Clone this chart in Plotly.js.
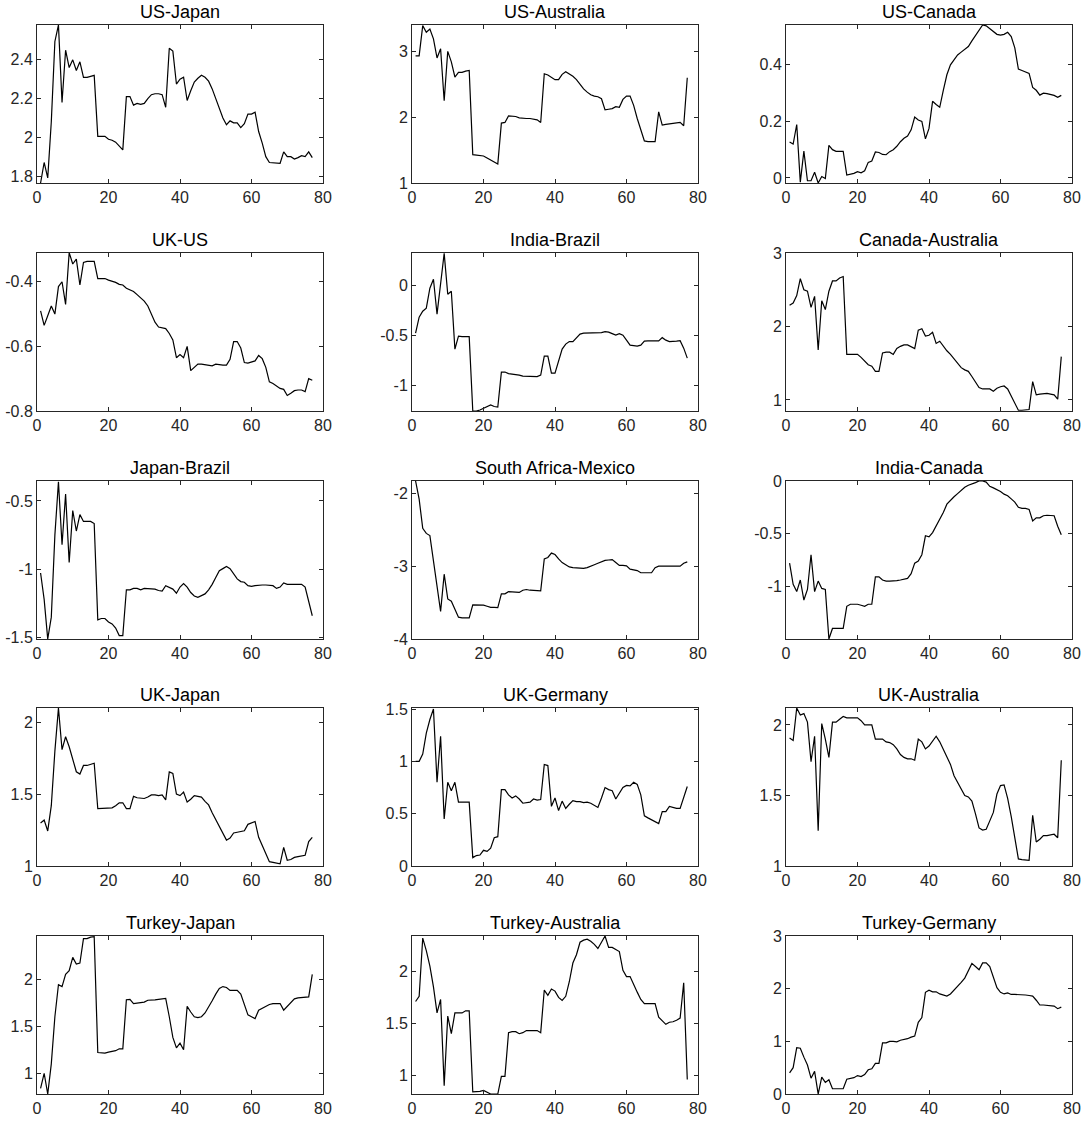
<!DOCTYPE html>
<html>
<head>
<meta charset="utf-8">
<script src="https://cdn.plot.ly/plotly-3.0.1.min.js"></script>
<style>body{margin:0;background:#fff}#chart{width:1084px;height:1121px}</style>
</head>
<body>
<div id="chart"></div>
<script>
const periods = Array.from({length: 77}, (_, i) => i + 1);
const xTicks = [0, 20, 40, 60, 80];

const titles = ["US-Japan", "US-Australia", "US-Canada", "UK-US", "India-Brazil", "Canada-Australia",
  "Japan-Brazil", "South Africa-Mexico", "India-Canada", "UK-Japan", "UK-Germany", "UK-Australia",
  "Turkey-Japan", "Turkey-Australia", "Turkey-Germany"];

const usJapan = [1.764,1.87,1.79,2.08,2.495,2.58,2.18,2.45,2.36,2.40,
  2.345,2.39,2.31,2.31,2.315,2.32,2.005,2.005,2.005,1.99,
  1.985,1.975,1.955,1.935,2.21,2.21,2.166,2.175,2.17,2.175,
  2.2,2.22,2.225,2.225,2.22,2.155,2.46,2.445,2.275,2.3,
  2.31,2.19,2.24,2.285,2.305,2.32,2.31,2.29,2.25,2.2,
  2.15,2.1,2.065,2.085,2.075,2.075,2.05,2.07,2.12,2.12,
  2.13,2.03,1.97,1.9,1.87,1.868,1.866,1.866,1.925,1.9,
  1.9,1.888,1.895,1.905,1.9,1.925,1.895];
const usAustralia = [2.93,2.93,3.39,3.29,3.34,3.19,2.9,3.04,2.25,3.0,
  2.84,2.61,2.68,2.68,2.7,2.71,1.43,1.42,1.42,1.41,
  1.38,1.35,1.31,1.29,1.91,1.92,2.02,2.02,2.01,1.99,
  1.98,1.98,1.98,1.97,1.96,1.92,2.66,2.64,2.6,2.57,
  2.57,2.65,2.69,2.66,2.62,2.57,2.5,2.43,2.38,2.34,
  2.32,2.31,2.28,2.11,2.12,2.13,2.16,2.15,2.27,2.32,
  2.32,2.18,1.98,1.8,1.64,1.63,1.63,1.63,2.08,1.88,
  1.89,1.9,1.9,1.91,1.92,1.87,2.6];
const usCanada = [0.127,0.12,0.189,-0.015,0.095,-0.01,-0.01,0.02,-0.018,0.005,
  -0.002,0.115,0.1,0.094,0.094,0.094,0.01,0.012,0.016,0.022,
  0.018,0.025,0.055,0.06,0.092,0.09,0.083,0.082,0.093,0.1,
  0.112,0.128,0.14,0.148,0.17,0.215,0.205,0.2,0.138,0.175,
  0.271,0.26,0.25,0.31,0.365,0.4,0.42,0.435,0.445,0.455,
  0.465,0.485,0.505,0.525,0.541,0.538,0.528,0.518,0.508,0.505,
  0.508,0.515,0.5,0.46,0.385,0.38,0.375,0.37,0.32,0.31,
  0.293,0.3,0.298,0.296,0.292,0.285,0.292];
const ukUS = [-0.49,-0.535,-0.505,-0.475,-0.5,-0.415,-0.4,-0.47,-0.31,-0.345,
  -0.33,-0.41,-0.34,-0.337,-0.337,-0.337,-0.39,-0.39,-0.39,-0.395,
  -0.398,-0.402,-0.408,-0.41,-0.42,-0.425,-0.43,-0.44,-0.45,-0.46,
  -0.475,-0.5,-0.525,-0.54,-0.542,-0.545,-0.56,-0.58,-0.635,-0.625,
  -0.635,-0.6,-0.675,-0.665,-0.655,-0.655,-0.657,-0.66,-0.66,-0.655,
  -0.657,-0.658,-0.658,-0.64,-0.585,-0.585,-0.605,-0.65,-0.652,-0.648,
  -0.645,-0.628,-0.638,-0.665,-0.71,-0.715,-0.722,-0.73,-0.733,-0.752,
  -0.745,-0.737,-0.735,-0.735,-0.74,-0.70,-0.705];
const indiaBrazil = [-0.48,-0.32,-0.26,-0.23,-0.03,0.06,-0.29,0.0,0.32,-0.09,
  -0.06,-0.64,-0.51,-0.515,-0.515,-0.515,-1.26,-1.26,-1.25,-1.235,
  -1.22,-1.2,-1.215,-1.22,-0.87,-0.87,-0.885,-0.89,-0.89,-0.9,
  -0.91,-0.913,-0.915,-0.915,-0.915,-0.9,-0.71,-0.71,-0.88,-0.88,
  -0.75,-0.64,-0.59,-0.565,-0.565,-0.53,-0.49,-0.48,-0.48,-0.48,
  -0.478,-0.478,-0.475,-0.465,-0.47,-0.485,-0.5,-0.485,-0.5,-0.55,
  -0.6,-0.605,-0.61,-0.6,-0.56,-0.558,-0.558,-0.558,-0.558,-0.525,
  -0.55,-0.565,-0.565,-0.56,-0.555,-0.63,-0.73];
const canadaAustralia = [2.29,2.32,2.42,2.65,2.5,2.48,2.26,2.41,1.68,2.35,
  2.23,2.48,2.62,2.62,2.66,2.68,1.62,1.62,1.63,1.62,
  1.58,1.53,1.48,1.46,1.39,1.39,1.64,1.65,1.65,1.62,
  1.7,1.73,1.75,1.75,1.73,1.7,1.95,1.97,1.87,1.88,
  1.92,1.77,1.8,1.73,1.67,1.62,1.56,1.5,1.44,1.41,
  1.39,1.32,1.24,1.17,1.15,1.15,1.15,1.12,1.16,1.18,
  1.19,1.15,1.05,0.95,0.86,0.86,0.865,0.87,1.25,1.07,
  1.08,1.09,1.09,1.08,1.07,1.01,1.59];
const japanBrazil = [-1.027,-1.22,-1.51,-1.35,-0.75,-0.36,-0.82,-0.45,-0.95,-0.57,
  -0.72,-0.6,-0.65,-0.65,-0.65,-0.665,-1.37,-1.36,-1.36,-1.385,
  -1.4,-1.43,-1.485,-1.485,-1.15,-1.15,-1.14,-1.14,-1.15,-1.14,
  -1.14,-1.14,-1.145,-1.155,-1.16,-1.12,-1.13,-1.145,-1.175,-1.13,
  -1.105,-1.13,-1.17,-1.195,-1.205,-1.195,-1.18,-1.15,-1.11,-1.06,
  -1.01,-0.995,-0.98,-0.995,-1.03,-1.07,-1.09,-1.095,-1.12,-1.125,
  -1.12,-1.115,-1.115,-1.115,-1.115,-1.12,-1.14,-1.13,-1.1,-1.11,
  -1.11,-1.11,-1.11,-1.11,-1.13,-1.24,-1.34];
const southAfricaMexico = [-1.83,-2.08,-2.48,-2.55,-2.58,-2.95,-3.3,-3.62,-3.11,-3.45,
  -3.48,-3.58,-3.7,-3.71,-3.71,-3.71,-3.53,-3.53,-3.535,-3.535,
  -3.55,-3.565,-3.565,-3.57,-3.38,-3.38,-3.35,-3.35,-3.35,-3.36,
  -3.33,-3.32,-3.33,-3.335,-3.34,-3.34,-2.9,-2.88,-2.82,-2.84,
  -2.9,-2.95,-2.98,-3.01,-3.02,-3.025,-3.03,-3.03,-3.02,-3.005,
  -2.98,-2.96,-2.94,-2.92,-2.915,-2.91,-2.95,-2.99,-2.99,-2.995,
  -3.04,-3.05,-3.06,-3.09,-3.09,-3.09,-3.09,-3.02,-3.0,-3.0,
  -3.0,-3.0,-3.0,-3.0,-3.0,-2.96,-2.94];
const indiaCanada = [-0.78,-0.98,-1.05,-0.94,-1.13,-1.03,-0.7,-1.05,-0.95,-1.02,
  -1.03,-1.5,-1.4,-1.4,-1.4,-1.4,-1.19,-1.17,-1.17,-1.17,
  -1.18,-1.19,-1.17,-1.17,-0.91,-0.91,-0.94,-0.95,-0.95,-0.95,
  -0.945,-0.94,-0.93,-0.925,-0.88,-0.78,-0.76,-0.7,-0.52,-0.53,
  -0.49,-0.43,-0.37,-0.3,-0.22,-0.18,-0.15,-0.12,-0.09,-0.06,
  -0.04,-0.03,-0.015,0.0,0.0,-0.01,-0.05,-0.065,-0.08,-0.1,
  -0.125,-0.14,-0.17,-0.2,-0.25,-0.26,-0.26,-0.27,-0.38,-0.35,
  -0.35,-0.33,-0.325,-0.325,-0.33,-0.43,-0.51];
const ukJapan = [1.3,1.32,1.244,1.42,1.8,2.1,1.81,1.9,1.83,1.74,
  1.656,1.64,1.7,1.7,1.705,1.715,1.4,1.4,1.4,1.405,
  1.405,1.42,1.44,1.44,1.4,1.4,1.485,1.475,1.47,1.47,
  1.48,1.495,1.495,1.49,1.495,1.46,1.655,1.645,1.5,1.49,
  1.515,1.445,1.465,1.49,1.485,1.48,1.45,1.425,1.37,1.32,
  1.27,1.22,1.18,1.195,1.23,1.235,1.24,1.245,1.29,1.3,
  1.31,1.2,1.14,1.09,1.03,1.025,1.02,1.015,1.13,1.04,
  1.045,1.06,1.065,1.07,1.075,1.17,1.2];
const ukGermany = [1.0,1.0,1.07,1.27,1.4,1.5,0.8,1.24,0.45,0.8,
  0.72,0.8,0.61,0.61,0.61,0.61,0.08,0.1,0.105,0.15,
  0.14,0.17,0.27,0.28,0.73,0.73,0.68,0.65,0.67,0.64,
  0.6,0.605,0.61,0.64,0.63,0.635,0.97,0.96,0.57,0.65,
  0.53,0.62,0.55,0.59,0.625,0.615,0.615,0.605,0.61,0.6,
  0.58,0.56,0.65,0.75,0.73,0.72,0.64,0.7,0.75,0.77,
  0.765,0.8,0.78,0.68,0.48,0.46,0.44,0.42,0.405,0.52,
  0.52,0.57,0.56,0.55,0.55,0.65,0.76];
const ukAustralia = [1.907,1.89,2.12,2.07,2.08,2.02,1.74,1.92,1.25,2.01,
  1.9,1.77,2.02,2.02,2.04,2.06,2.05,2.05,2.05,2.05,
  2.03,2.0,2.0,2.0,1.9,1.9,1.9,1.88,1.875,1.86,
  1.83,1.79,1.77,1.76,1.76,1.75,1.9,1.88,1.83,1.85,
  1.89,1.92,1.88,1.83,1.78,1.72,1.64,1.59,1.54,1.5,
  1.49,1.46,1.37,1.27,1.255,1.26,1.32,1.38,1.51,1.57,
  1.575,1.48,1.35,1.2,1.05,1.045,1.045,1.04,1.36,1.17,
  1.19,1.215,1.215,1.22,1.225,1.2,1.75];
const turkeyJapan = [0.84,1.0,0.78,1.1,1.6,1.94,1.92,2.05,2.09,2.23,
  2.16,2.17,2.43,2.43,2.445,2.45,1.22,1.215,1.215,1.225,
  1.23,1.24,1.26,1.26,1.78,1.785,1.74,1.745,1.745,1.755,
  1.775,1.775,1.78,1.785,1.79,1.795,1.6,1.38,1.27,1.32,
  1.25,1.71,1.65,1.6,1.59,1.6,1.64,1.7,1.77,1.84,
  1.9,1.92,1.91,1.88,1.88,1.88,1.84,1.72,1.62,1.6,
  1.58,1.67,1.69,1.71,1.73,1.74,1.74,1.74,1.67,1.71,
  1.75,1.79,1.8,1.805,1.81,1.81,2.05];
const turkeyAustralia = [1.71,1.76,2.32,2.2,2.05,1.85,1.6,1.73,0.9,1.57,
  1.4,1.6,1.6,1.6,1.62,1.62,0.84,0.84,0.845,0.855,
  0.84,0.82,0.82,0.82,0.99,0.99,1.41,1.42,1.42,1.4,
  1.41,1.43,1.43,1.43,1.43,1.41,1.82,1.77,1.83,1.81,
  1.75,1.72,1.76,1.9,2.08,2.16,2.28,2.3,2.31,2.29,
  2.26,2.22,2.28,2.34,2.23,2.23,2.21,2.19,2.01,1.95,
  1.95,1.87,1.8,1.73,1.69,1.69,1.69,1.69,1.56,1.52,
  1.49,1.51,1.515,1.53,1.55,1.89,0.96];
const turkeyGermany = [0.4,0.5,0.88,0.87,0.7,0.55,0.3,0.43,0.0,0.32,
  0.22,0.27,0.1,0.1,0.1,0.1,0.28,0.3,0.31,0.35,
  0.33,0.37,0.46,0.48,0.58,0.58,0.97,0.97,1.0,1.0,
  0.99,1.02,1.03,1.05,1.08,1.1,1.36,1.45,1.93,1.97,
  1.94,1.94,1.9,1.88,1.86,1.9,1.97,2.05,2.12,2.2,
  2.33,2.48,2.42,2.36,2.49,2.49,2.42,2.2,2.02,1.93,
  1.9,1.92,1.89,1.89,1.89,1.89,1.88,1.87,1.86,1.78,
  1.69,1.69,1.68,1.675,1.67,1.62,1.65];

const series = [usJapan, usAustralia, usCanada, ukUS, indiaBrazil, canadaAustralia,
  japanBrazil, southAfricaMexico, indiaCanada, ukJapan, ukGermany, ukAustralia,
  turkeyJapan, turkeyAustralia, turkeyGermany];

const yRanges = [[1.764, 2.58], [1, 3.4], [-0.018, 0.541], [-0.8, -0.311], [-1.26, 0.323],
  [0.85, 3.0], [-1.51, -0.354], [-4, -1.83], [-1.5, 0.0], [1.0, 2.1], [0, 1.51],
  [1.0, 2.12], [0.78, 2.457], [0.82, 2.34], [0, 3]];
const yTicks = [[1.8, 2, 2.2, 2.4], [1, 2, 3], [0, 0.2, 0.4], [-0.8, -0.6, -0.4], [-1, -0.5, 0],
  [1, 2, 3], [-1.5, -1, -0.5], [-4, -3, -2], [-1, -0.5, 0], [1, 1.5, 2], [0, 0.5, 1, 1.5],
  [1, 1.5, 2], [1, 1.5, 2], [1, 1.5, 2], [0, 1, 2, 3]];

// layout geometry (pixels)
const W = 1084, H = 1121;
const colLeft = [37, 412, 786], colW = 286;
const rowTop = [25, 253, 481, 708, 936], rowH = 158;

const fontFam = 'Arial, "Liberation Sans", Helvetica, sans-serif';
const axisCommon = {
  showline: true, linecolor: '#262626', linewidth: 1, mirror: 'ticks',
  ticks: 'inside', ticklen: 4, tickwidth: 1, tickcolor: '#262626',
  showgrid: false, zeroline: false, fixedrange: true,
  tickfont: {family: fontFam, size: 16, color: '#262626'}
};

const traces = [];
const layout = {
  width: W, height: H, margin: {l: 0, r: 0, t: 0, b: 0},
  paper_bgcolor: '#fff', plot_bgcolor: '#fff', showlegend: false,
  annotations: []
};

series.forEach((vals, i) => {
  const r = Math.floor(i / 3), c = i % 3;
  const suf = i === 0 ? '' : String(i + 1);
  traces.push({
    x: periods, y: vals, type: 'scatter', mode: 'lines',
    line: {color: '#000', width: 1.2},
    xaxis: 'x' + suf, yaxis: 'y' + suf, hoverinfo: 'skip'
  });
  const xd = [colLeft[c] / W, (colLeft[c] + colW) / W];
  const yd = [1 - (rowTop[r] + rowH) / H, 1 - rowTop[r] / H];
  layout['xaxis' + suf] = Object.assign({}, axisCommon, {
    domain: xd, anchor: 'y' + suf, range: [0, 80],
    tickvals: xTicks, ticktext: xTicks.map(String)
  });
  layout['yaxis' + suf] = Object.assign({}, axisCommon, {
    domain: yd, anchor: 'x' + suf, range: yRanges[i],
    tickvals: yTicks[i], ticktext: yTicks[i].map(String)
  });
  layout.annotations.push({
    text: titles[i], xref: 'paper', yref: 'paper',
    x: (xd[0] + xd[1]) / 2, y: 1 - (rowTop[r] - 13) / H,
    xanchor: 'center', yanchor: 'middle', showarrow: false,
    font: {family: fontFam, size: 18, color: '#000'}
  });
});

Plotly.newPlot('chart', traces, layout, {displayModeBar: false, staticPlot: true});
</script>
</body>
</html>
